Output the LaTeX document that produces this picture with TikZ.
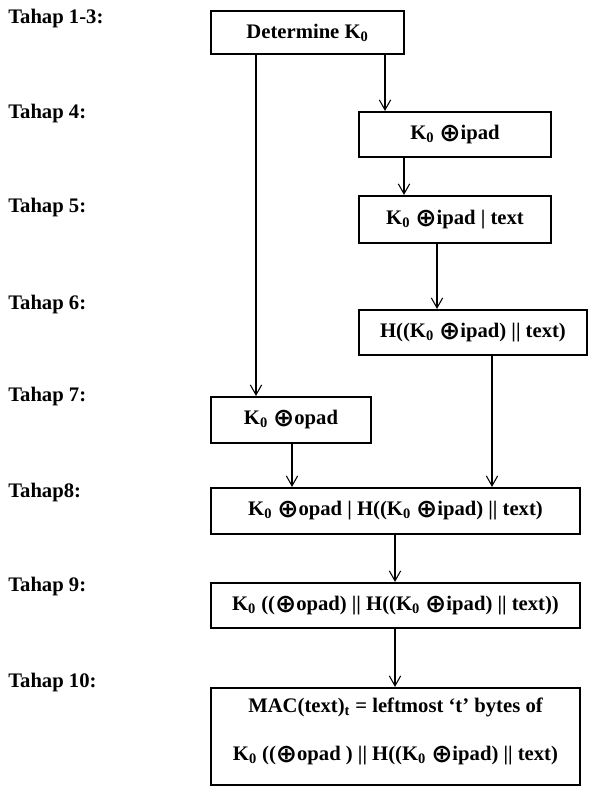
\documentclass[tikz,border=0pt]{standalone}
\usepackage{fontspec}
\setmainfont{Liberation Serif}
\newfontfamily\symfont{DejaVu Sans}
\usetikzlibrary{arrows.meta}
\newcommand{\xor}{\raisebox{-1.5pt}{\symfont\bfseries\fontsize{19}{19}\selectfont ⊕}}
\newcommand{\Knol}{K\textsubscript{0}}
\begin{document}
\begin{tikzpicture}[x=0.75pt, y=-0.75pt,
		box/.style={draw, line width=1.6pt, inner sep=2pt, align=center,
			font=\bfseries\fontsize{15.5}{18}\selectfont},
		tahap/.style={anchor=west, inner sep=0pt, font=\bfseries\fontsize{15.5}{18}\selectfont},
		arr/.style={line width=0.8pt, -{Straight Barb[length=7.5pt,width=8.5pt]}}]
		\useasboundingbox ( 0, 0 ) rectangle ( 589, 787 );

		% label tahap
		\node [tahap] (t13) at ( 8, 19 ) {Tahap 1-3:};
		\node [tahap] (t4) at ( 8, 114 ) {Tahap 4:};
		\node [tahap] (t5) at ( 8, 208 ) {Tahap 5:};
		\node [tahap] (t6) at ( 8, 305 ) {Tahap 6:};
		\node [tahap] (t7) at ( 8, 397 ) {Tahap 7:};
		\node [tahap] (t8) at ( 8, 493 ) {Tahap8:};
		\node [tahap] (t9) at ( 8, 587 ) {Tahap 9:};
		\node [tahap] (t10) at ( 8, 683 ) {Tahap 10:};

		% kotak proses
		\node [box, minimum width=144.75pt, minimum height=32.25pt] (det) at ( 307.5, 32.5 ) {Determine \Knol};
		\node [box, minimum width=144pt, minimum height=33.75pt] (ipad) at ( 455, 134.5 ) {\Knol{} \xor ipad};
		\node [box, minimum width=144pt, minimum height=35.25pt] (ipadtext) at ( 455, 219.5 ) {\Knol{} \xor ipad | text};
		\node [box, minimum width=171pt, minimum height=33.75pt] (hash) at ( 473, 332.5 ) {H((\Knol{} \xor ipad) || text)};
		\node [box, minimum width=120pt, minimum height=34.5pt] (opad) at ( 291, 420 ) {\Knol{} \xor opad};
		\node [box, minimum width=276.75pt, minimum height=34.5pt] (concat) at ( 395.5, 511 ) {\Knol{} \xor opad | H((\Knol{} \xor ipad) || text)};
		\node [box, minimum width=276.75pt, minimum height=33.75pt] (outer) at ( 395.5, 605.5 ) {\Knol{} ((\xor opad) || H((\Knol{} \xor ipad) || text))};
		\node [box, minimum width=276.75pt, minimum height=72.75pt, text depth=11pt] (mac) at ( 395.5, 736.5 )
			{MAC(text)\textsubscript{t} = leftmost `t' bytes of\\[18pt]\Knol{} ((\xor opad ) || H((\Knol{} \xor ipad) || text)};

		% kolom panah
		\coordinate (kolA) at ( 256, 0 );
		\coordinate (kolB) at ( 385, 0 );
		\coordinate (kolC) at ( 404, 0 );
		\coordinate (kolD) at ( 437, 0 );
		\coordinate (kolE) at ( 492, 0 );
		\coordinate (kolF) at ( 292, 0 );
		\coordinate (kolG) at ( 395, 0 );

		% panah
		\draw [arr] (det.south -| kolA) -- (opad.north -| kolA);
		\draw [arr] (det.south -| kolB) -- (ipad.north -| kolB);
		\draw [arr] (ipad.south -| kolC) -- (ipadtext.north -| kolC);
		\draw [arr] (ipadtext.south -| kolD) -- (hash.north -| kolD);
		\draw [arr] (hash.south -| kolE) -- (concat.north -| kolE);
		\draw [arr] (opad.south -| kolF) -- (concat.north -| kolF);
		\draw [arr] (concat.south -| kolG) -- (outer.north -| kolG);
		\draw [arr] (outer.south -| kolG) -- (mac.north -| kolG);
	\end{tikzpicture}
\end{document}
